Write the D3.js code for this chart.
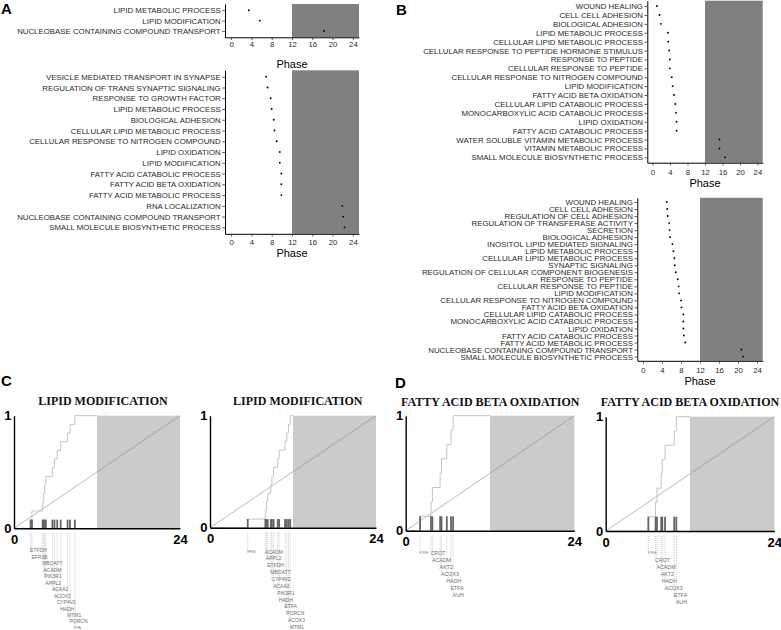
<!DOCTYPE html>
<html><head><meta charset="utf-8">
<script src="https://cdn.jsdelivr.net/npm/d3@7"></script>
<style>body{margin:0;background:#fff} svg{display:block}</style>
</head><body><svg id="c" width="781" height="630"></svg>
<script>
// ---------- DATA ----------
const phaseTicks = [0, 4, 8, 12, 16, 20, 24];

const aTopCats = ["LIPID METABOLIC PROCESS","LIPID MODIFICATION","NUCLEOBASE CONTAINING COMPOUND TRANSPORT"];
const aTopPhase = [3.5, 5.65, 18.3];

const aBotCats = ["VESICLE MEDIATED TRANSPORT IN SYNAPSE","REGULATION OF TRANS SYNAPTIC SIGNALING","RESPONSE TO GROWTH FACTOR",
  "LIPID METABOLIC PROCESS","BIOLOGICAL ADHESION","CELLULAR LIPID METABOLIC PROCESS","CELLULAR RESPONSE TO NITROGEN COMPOUND",
  "LIPID OXIDATION","LIPID MODIFICATION","FATTY ACID CATABOLIC PROCESS","FATTY ACID BETA OXIDATION","FATTY ACID METABOLIC PROCESS",
  "RNA LOCALIZATION","NUCLEOBASE CONTAINING COMPOUND TRANSPORT","SMALL MOLECULE BIOSYNTHETIC PROCESS"];
const aBotPhase = [6.9, 7.2, 7.8, 8.0, 8.4, 8.55, 9.0, 9.6, 9.6, 9.9, 9.9, 9.9, 21.9, 22.1, 22.35];

const bTopCats = ["WOUND HEALING","CELL CELL ADHESION","BIOLOGICAL ADHESION","LIPID METABOLIC PROCESS","CELLULAR LIPID METABOLIC PROCESS",
  "CELLULAR RESPONSE TO PEPTIDE HORMONE STIMULUS","RESPONSE TO PEPTIDE","CELLULAR RESPONSE TO PEPTIDE","CELLULAR RESPONSE TO NITROGEN COMPOUND",
  "LIPID MODIFICATION","FATTY ACID BETA OXIDATION","CELLULAR LIPID CATABOLIC PROCESS","MONOCARBOXYLIC ACID CATABOLIC PROCESS",
  "LIPID OXIDATION","FATTY ACID CATABOLIC PROCESS","WATER SOLUBLE VITAMIN METABOLIC PROCESS","VITAMIN METABOLIC PROCESS",
  "SMALL MOLECULE BIOSYNTHETIC PROCESS"];
const bTopPhase = [1.0, 1.6, 1.9, 3.5, 3.6, 3.8, 3.95, 3.95, 4.4, 4.6, 4.9, 5.2, 5.4, 5.5, 5.5, 15.3, 15.3, 16.6];

const bBotCats = ["WOUND HEALING","CELL CELL ADHESION","REGULATION OF CELL ADHESION","REGULATION OF TRANSFERASE ACTIVITY","SECRETION",
  "BIOLOGICAL ADHESION","INOSITOL LIPID MEDIATED SIGNALING","LIPID METABOLIC PROCESS","CELLULAR LIPID METABOLIC PROCESS","SYNAPTIC SIGNALING",
  "REGULATION OF CELLULAR COMPONENT BIOGENESIS","RESPONSE TO PEPTIDE","CELLULAR RESPONSE TO PEPTIDE","LIPID MODIFICATION",
  "CELLULAR RESPONSE TO NITROGEN COMPOUND","FATTY ACID BETA OXIDATION","CELLULAR LIPID CATABOLIC PROCESS","MONOCARBOXYLIC ACID CATABOLIC PROCESS",
  "LIPID OXIDATION","FATTY ACID CATABOLIC PROCESS","FATTY ACID METABOLIC PROCESS","NUCLEOBASE CONTAINING COMPOUND TRANSPORT",
  "SMALL MOLECULE BIOSYNTHETIC PROCESS"];
const bBotPhase = [5.0, 5.1, 5.2, 5.5, 5.6, 5.7, 6.2, 6.4, 6.6, 6.7, 6.9, 7.3, 7.5, 7.6, 8.0, 8.1, 8.5, 8.5, 8.5, 8.6, 8.9, 20.7, 21.1];

const cTitle = "LIPID MODIFICATION";
const dTitle = "FATTY ACID BETA OXIDATION";

const c1Genes = ["ETFDH","EFR3B","MBOAT7","ACADM","PIK3R1","APPL2","ACAA2","ACOX3","CYP4V2","HADH","MTM1","PORCN","ETFA"];
const c1Phase = [2.4, 2.6, 4.15, 4.3, 4.45, 4.6, 5.55, 5.85, 6.25, 6.75, 7.75, 8.1, 8.8];
const c1Small = ["ETFA"];

const c2Genes = ["EFR3B","ACADM","APPL2","ETFDH","MBOAT7","CYP4V2","ACAA2","PIK3R1","HADH","ETFA","PORCN","ACOX3","MTM1"];
const c2Phase = [5.45, 8.0, 8.15, 8.35, 8.8, 8.95, 9.2, 9.8, 10.0, 10.85, 11.1, 11.35, 11.6];
const c2Small = ["EFR3B"];

const d1Genes = ["ETFDH","CROT","ACADM","AKT2","ACOX3","HADH","ETFA","AUH"];
const d1Phase = [2.05, 3.6, 3.8, 4.9, 5.1, 5.85, 6.45, 6.75];
const d1Small = ["ETFDH"];

const d2Genes = ["ETFDH","CROT","ACADM","AKT2","HADH","ACOX3","ETFA","AUH"];
const d2Phase = [6.07, 7.1, 7.3, 7.9, 8.05, 8.45, 9.75, 10.05];
const d2Small = ["ETFDH"];

// ---------- DRAW ----------
const svg = d3.select("#c");
const SANS = "'Liberation Sans', Arial, Helvetica, sans-serif";
const SERIF = "'Liberation Serif', 'Times New Roman', serif";

function dotPanel(cfg, cats, vals) {
  const g = svg.append("g");
  const x = d3.scaleLinear().domain([-1.2, 25.2]).range([cfg.left, cfg.right]);
  const y = d3.scalePoint().domain(cats).range([cfg.top, cfg.bottom]).padding(0.6);
  g.append("rect").attr("x", x(12)).attr("y", cfg.top)
    .attr("width", cfg.right - x(12)).attr("height", cfg.bottom - cfg.top).attr("fill", "#808080");
  g.selectAll("circle.pt").data(cats).join("circle")
    .attr("cx", (d, i) => x(vals[i])).attr("cy", d => y(d)).attr("r", 0.95).attr("fill", "#000");
  const xa = g.append("g").attr("transform", `translate(0,${cfg.bottom})`)
    .call(d3.axisBottom(x).tickValues(phaseTicks).tickSize(2.75).tickSizeOuter(0).tickPadding(cfg.tickPad));
  const ya = g.append("g").attr("transform", `translate(${cfg.left},0)`)
    .call(d3.axisLeft(y).tickSize(2.75).tickSizeOuter(0).tickPadding(1.6));
  [xa, ya].forEach(a => {
    a.select(".domain").attr("stroke", "#000").attr("stroke-width", 1);
    a.selectAll(".tick line").attr("stroke", "#333").attr("stroke-width", 0.8);
    a.selectAll("text").attr("font-family", SANS).attr("fill", "#2a2a2a");
  });
  xa.selectAll("text").attr("font-size", 7.8);
  ya.selectAll("text").attr("font-size", cfg.labelSize);
  g.append("text").attr("x", (cfg.left + cfg.right) / 2).attr("y", cfg.phaseY + 4)
    .attr("text-anchor", "middle").attr("font-family", SANS).attr("font-size", 11).attr("fill", "#000").text("Phase");
}

dotPanel({left: 225, right: 359, top: 4, bottom: 37.3, tickPad: 1.0, phaseY: 64, labelSize: 7.85}, aTopCats, aTopPhase);
dotPanel({left: 225, right: 359, top: 70.3, bottom: 233.8, tickPad: 2.9, phaseY: 252.7, labelSize: 7.85}, aBotCats, aBotPhase);
dotPanel({left: 647.3, right: 762.7, top: 0.7, bottom: 162.7, tickPad: 4.4, phaseY: 182.7, labelSize: 7.85}, bTopCats, bTopPhase);
dotPanel({left: 637.3, right: 762.7, top: 197.8, bottom: 360.8, tickPad: 3.8, phaseY: 380.7, labelSize: 7.9}, bBotCats, bBotPhase);

function ecdfPanel(cfg, title, genes, phases, small) {
  const g = svg.append("g");
  const N = genes.length;
  const x = d3.scaleLinear().domain([0, 24]).range([cfg.left, cfg.right]);
  const y = d3.scaleLinear().domain([0, 1]).range([cfg.bottom, cfg.top]);
  g.append("text").attr("x", cfg.titleX).attr("y", cfg.titleY).attr("text-anchor", "middle")
    .attr("font-family", SERIF).attr("font-weight", "bold").attr("font-size", 12).attr("fill", "#111").text(title);
  g.append("rect").attr("x", x(12)).attr("y", y(1)).attr("width", x(24) - x(12)).attr("height", y(0) - y(1)).attr("fill", "#cbcbcb");
  g.append("path").datum([[0, 0], [24, 1]])
    .attr("d", d3.line().x(d => x(d[0])).y(d => y(d[1])))
    .attr("stroke", "#8c8c8c").attr("stroke-width", 0.6).attr("fill", "none");
  const pts = [[0, 0]].concat(phases.map((p, i) => [p, (i + 1) / N]), [[12, 1]]);
  g.append("path").datum(pts)
    .attr("d", d3.line().x(d => x(d[0])).y(d => y(d[1])).curve(d3.curveStepAfter))
    .attr("stroke", "#c4c4c4").attr("stroke-width", 1).attr("fill", "none");
  g.selectAll("rect.bar").data(phases).join("rect")
    .attr("x", d => x(d) - 0.9).attr("width", 1.8)
    .attr("y", y(1 / N)).attr("height", y(0) - y(1 / N)).attr("fill", "#666");
  const fmt = d3.format("d");
  const xa = g.append("g").attr("transform", `translate(0,${cfg.bottom})`)
    .call(d3.axisBottom(x).tickValues([0, 24]).tickFormat(fmt).tickSize(0).tickSizeOuter(0).tickPadding(6.5));
  const ya = g.append("g").attr("transform", `translate(${cfg.left},0)`)
    .call(d3.axisLeft(y).tickValues([0, 1]).tickFormat(fmt).tickSize(0).tickSizeOuter(0).tickPadding(2.5));
  [xa, ya].forEach(a => {
    a.select(".domain").attr("stroke", "#000").attr("stroke-width", 1.4);
    a.selectAll("text").attr("font-family", SANS).attr("font-weight", "bold").attr("font-size", 13).attr("fill", "#000");
  });
  const isSmall = genes.map(gn => small.includes(gn));
  const fs = i => isSmall[i] ? 2.6 : cfg.labelSize;
  const rows = [];
  let row = 0, shared = false;
  genes.forEach((gn, i) => {
    if (i > 0 && !shared) row++;
    rows.push(row);
    shared = isSmall[i] && i < N - 1 && (x(phases[i + 1]) - x(phases[i])) > gn.length * 0.67 * 2.6 + 1;
  });
  genes.forEach((gn, i) => {
    const ly = cfg.labelY0 + rows[i] * cfg.labelStep;
    g.append("line").attr("x1", x(phases[i])).attr("x2", x(phases[i]))
      .attr("y1", cfg.bottom + 5).attr("y2", ly - fs(i) * 0.45)
      .attr("stroke", "#9a9a9a").attr("stroke-width", 0.5).attr("stroke-dasharray", "1,1");
    g.append("text").attr("x", x(phases[i]) - 0.5).attr("y", ly + fs(i) * 0.36)
      .attr("font-family", SANS).attr("font-size", fs(i)).attr("fill", "#6e6e6e").text(gn);
  });
}

ecdfPanel({left: 14, right: 180, top: 415.7, bottom: 528.3, titleX: 103, titleY: 405, labelY0: 550.5, labelStep: 6.47, labelSize: 5}, cTitle, c1Genes, c1Phase, c1Small);
ecdfPanel({left: 210, right: 376, top: 415.7, bottom: 527.7, titleX: 297.8, titleY: 405, labelY0: 551.7, labelStep: 6.87, labelSize: 5}, cTitle, c2Genes, c2Phase, c2Small);
ecdfPanel({left: 405.7, right: 574.3, top: 415.7, bottom: 530.7, titleX: 490.3, titleY: 406, labelY0: 552.7, labelStep: 7.1, labelSize: 5.3}, dTitle, d1Genes, d1Phase, d1Small);
ecdfPanel({left: 605.7, right: 774.3, top: 416.7, bottom: 531, titleX: 690, titleY: 406, labelY0: 552.7, labelStep: 7.1, labelSize: 5.3}, dTitle, d2Genes, d2Phase, d2Small);

[["A", 1, 13.5], ["B", 396, 14.5], ["C", 1, 385.5], ["D", 395, 387.5]].forEach(([t, lx, ly]) => {
  svg.append("text").attr("x", lx).attr("y", ly).attr("font-family", SANS).attr("font-weight", "bold")
    .attr("font-size", 15).attr("fill", "#000").text(t);
});
</script>
</body></html>
